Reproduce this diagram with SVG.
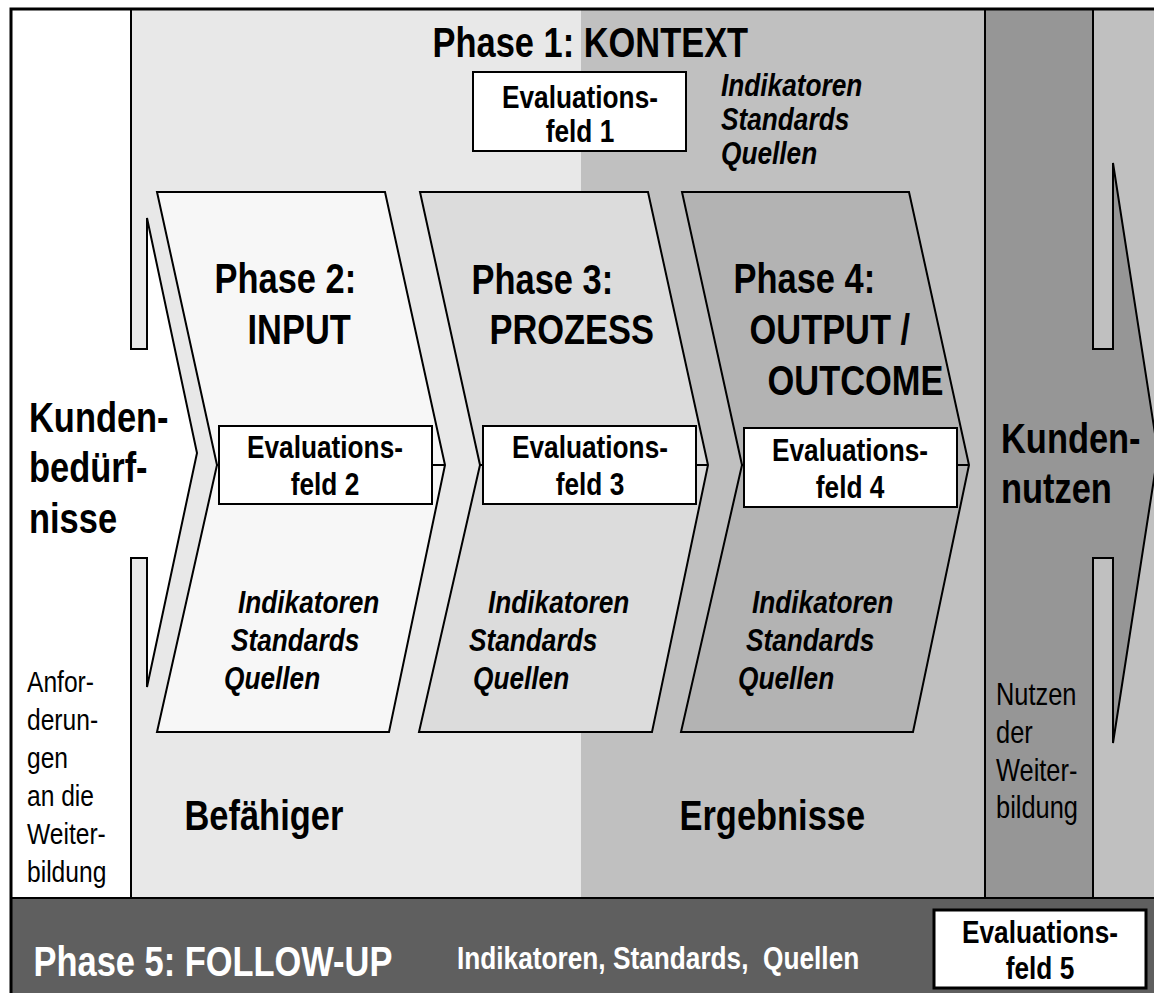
<svg xmlns="http://www.w3.org/2000/svg" width="1154" height="993" viewBox="0 0 1154 993">
  <style>
    /* narrow sans: regular sans compressed horizontally about each text's own box */
    text {
      font-family: "Liberation Sans Narrow", "Liberation Sans", Arial, sans-serif;
      fill: #000;
      transform-box: fill-box;
      transform-origin: 0 50%;
      transform: scaleX(0.82);
    }
    .big { font-size: 42px; font-weight: bold; }
    .ev { font-size: 32px; font-weight: bold; text-anchor: middle; transform-origin: 50% 50%; }
    .it { font-size: 32px; font-weight: bold; font-style: italic; }
    .sm { font-size: 30px; }
    .smr { font-size: 31px; }
    .band { font-size: 32px; font-weight: bold; }
    .inv { fill: #fff; }
    .ln { stroke: #000; stroke-width: 2; stroke-linejoin: miter; }
    .box { fill: #fff; stroke: #000; stroke-width: 2; }
  </style>

  <!-- background zones -->
  <rect x="131" y="9" width="450" height="889" fill="#e8e8e8"/>
  <rect x="581" y="9" width="580" height="889" fill="#c0c0c0"/>

  <!-- customer needs column with arrow -->
  <g id="kundenbeduerfnisse">
    <polygon class="ln" fill="#fff" points="11,9 131,9 131,349 147,349 147,218 197,453 147,687 147,558 131,558 131,898 11,898"/>
    <text class="big" x="29" y="432">Kunden-</text>
    <text class="big" x="29" y="482">bedürf-</text>
    <text class="big" x="29" y="533">nisse</text>
    <text class="sm" x="27" y="692">Anfor-</text>
    <text class="sm" x="27" y="730">derun-</text>
    <text class="sm" x="27" y="768">gen</text>
    <text class="sm" x="27" y="806">an die</text>
    <text class="sm" x="27" y="844">Weiter-</text>
    <text class="sm" x="27" y="882">bildung</text>
  </g>

  <!-- customer benefit column with arrow -->
  <g id="kundennutzen">
    <polygon class="ln" fill="#969696" points="985,9 1093,9 1093,349 1113,349 1113,163 1158,453 1113,743 1113,558 1093,558 1093,898 985,898"/>
    <text class="big" x="1001" y="453">Kunden-</text>
    <text class="big" x="1001" y="503">nutzen</text>
    <text class="smr" x="996" y="705">Nutzen</text>
    <text class="smr" x="996" y="743">der</text>
    <text class="smr" x="996" y="781">Weiter-</text>
    <text class="smr" x="996" y="818">bildung</text>
  </g>

  <!-- phase 1 -->
  <g id="phase1">
    <text class="big" x="432.5" y="57">Phase 1: KONTEXT</text>
    <rect class="box" x="473" y="72" width="213" height="79"/>
    <text class="ev" x="580" y="108">Evaluations-</text>
    <text class="ev" x="580" y="142">feld 1</text>
    <text class="it" x="721" y="96">Indikatoren</text>
    <text class="it" x="721" y="130">Standards</text>
    <text class="it" x="721" y="164">Quellen</text>
  </g>

  <!-- phase 2 -->
  <g id="phase2">
    <polygon class="ln" fill="#f7f7f7" points="157,192 385,192 445,465 389,732 157,732 217,465"/>
    <line class="ln" x1="217" y1="465" x2="445" y2="465"/>
    <text class="big" x="214.5" y="293">Phase 2:</text>
    <text class="big" x="247.5" y="344">INPUT</text>
    <rect class="box" x="219" y="426" width="213" height="78"/>
    <text class="ev" x="325" y="458">Evaluations-</text>
    <text class="ev" x="325" y="495">feld 2</text>
    <text class="it" x="238" y="613">Indikatoren</text>
    <text class="it" x="231" y="651">Standards</text>
    <text class="it" x="224" y="689">Quellen</text>
  </g>

  <!-- phase 3 -->
  <g id="phase3">
    <polygon class="ln" fill="#dcdcdc" points="420,192 648,192 708,465 652,732 419,732 480,465"/>
    <line class="ln" x1="480" y1="465" x2="708" y2="465"/>
    <text class="big" x="471.5" y="294">Phase 3:</text>
    <text class="big" x="489.5" y="344">PROZESS</text>
    <rect class="box" x="483" y="426" width="213" height="78"/>
    <text class="ev" x="590" y="458">Evaluations-</text>
    <text class="ev" x="590" y="495">feld 3</text>
    <text class="it" x="488" y="613">Indikatoren</text>
    <text class="it" x="469" y="651">Standards</text>
    <text class="it" x="473" y="689">Quellen</text>
  </g>

  <!-- phase 4 -->
  <g id="phase4">
    <polygon class="ln" fill="#b3b3b3" points="682,192 909,192 969,465 913,732 681,732 742,465"/>
    <line class="ln" x1="742" y1="465" x2="969" y2="465"/>
    <text class="big" x="733.5" y="293">Phase 4:</text>
    <text class="big" x="749.5" y="344">OUTPUT /</text>
    <text class="big" x="767.5" y="395">OUTCOME</text>
    <rect class="box" x="744" y="428" width="213" height="79"/>
    <text class="ev" x="850" y="461">Evaluations-</text>
    <text class="ev" x="850" y="498">feld 4</text>
    <text class="it" x="752" y="613">Indikatoren</text>
    <text class="it" x="746" y="651">Standards</text>
    <text class="it" x="738" y="689">Quellen</text>
  </g>

  <!-- lower captions -->
  <g id="captions">
    <text class="big" x="184.5" y="830">Befähiger</text>
    <text class="big" x="679.5" y="830">Ergebnisse</text>
  </g>

  <!-- phase 5 band -->
  <g id="phase5">
    <rect x="11" y="898" width="1150" height="100" fill="#5f5f5f" stroke="#000" stroke-width="2"/>
    <text class="big inv" x="33.5" y="976">Phase 5: FOLLOW-UP</text>
    <text class="band inv" x="457" y="969" xml:space="preserve">Indikatoren, Standards,  Quellen</text>
    <rect x="934" y="910" width="212" height="78" fill="#fff" stroke="#000" stroke-width="3"/>
    <text class="ev" x="1040" y="943">Evaluations-</text>
    <text class="ev" x="1040" y="979">feld 5</text>
  </g>

  <!-- outer frame -->
  <rect x="11" y="9" width="1160" height="1000" fill="none" stroke="#000" stroke-width="3"/>
</svg>
